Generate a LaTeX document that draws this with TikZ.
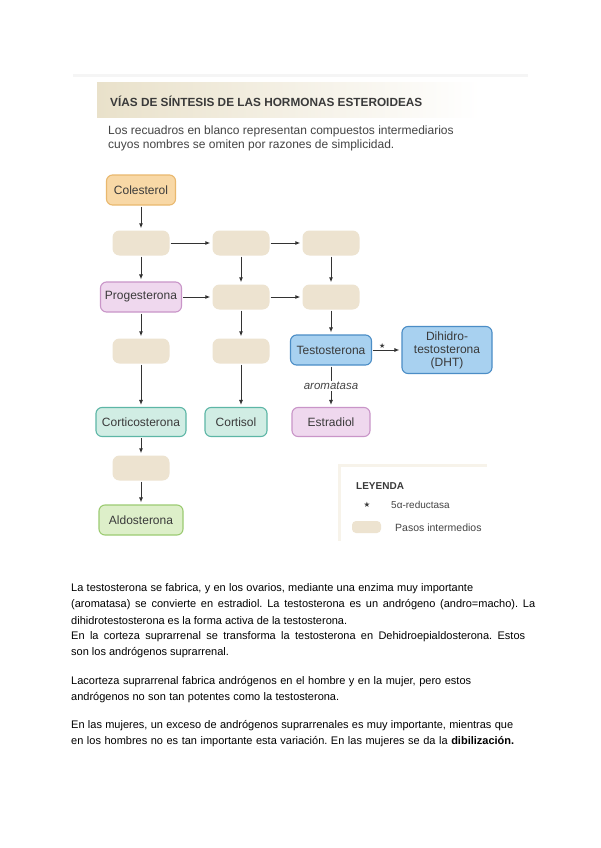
\documentclass[tikz,border=0pt]{standalone}
\usepackage{fontspec}
\setmainfont{Liberation Sans}
\newfontfamily\symfont{DejaVu Sans}
\usetikzlibrary{arrows.meta}
\frenchspacing
\definecolor{beige}{HTML}{EDE3D0}
\definecolor{titlebeige}{HTML}{E9E1CA}
\definecolor{orangef}{HTML}{F8D8A6}
\definecolor{oranged}{HTML}{E9B86E}
\definecolor{pinkf}{HTML}{EFD8EE}
\definecolor{pinkd}{HTML}{C995C8}
\definecolor{bluef}{HTML}{A8D1F0}
\definecolor{blued}{HTML}{4B8DC6}
\definecolor{tealf}{HTML}{D1EDE4}
\definecolor{teald}{HTML}{5DB6A6}
\definecolor{greenf}{HTML}{DDEFC9}
\definecolor{greend}{HTML}{9CCB72}
\definecolor{boxtext}{HTML}{3A3A3A}
\definecolor{arrowgray}{HTML}{333333}
\definecolor{subgray}{HTML}{444444}
\newcommand{\bodyfit}[2]{\makebox[#1pt][s]{#2}}
\tikzset{
  box/.style={draw, rounded corners=6pt, line width=1.1pt, minimum height=30pt,
    inner sep=1pt, font=\fontsize{12}{13.5}\selectfont, text=boxtext},
  orangebox/.style={box, fill=orangef, draw=oranged},
  pinkbox/.style={box, fill=pinkf, draw=pinkd},
  bluebox/.style={box, fill=bluef, draw=blued},
  tealbox/.style={box, fill=tealf, draw=teald},
  greenbox/.style={box, fill=greenf, draw=greend},
  inter/.style={fill=beige, rounded corners=7pt, minimum width=57pt, minimum height=25pt, inner sep=0pt},
  arr/.style={-{Latex[length=5pt,width=4pt]}, line width=0.9pt, draw=arrowgray, shorten >=2pt, shorten <=1pt},
  bodyline/.style={anchor=west, inner sep=0pt, font=\fontsize{11}{12}\selectfont},
}
\begin{document}
\begin{tikzpicture}[x=1pt,y=-1pt]
\useasboundingbox[fill=white] (0,0) rectangle (600,848);
% top rule and title band
\fill[gray!8] (73,74) rectangle (528,77);
\shade[left color=titlebeige, right color=white] (97,83) rectangle (480,118);
\node[anchor=west, inner sep=0pt, font=\bfseries\fontsize{11.8}{13}\selectfont, text=boxtext] (title) at (110,101) {VÍAS DE SÍNTESIS DE LAS HORMONAS ESTEROIDEAS};
\node[anchor=west, inner sep=0pt, font=\fontsize{12}{14}\selectfont, text=subgray] (sub1) at (108,131) {Los recuadros en blanco representan compuestos intermediarios};
\node[anchor=west, inner sep=0pt, font=\fontsize{12}{14}\selectfont, text=subgray] (sub2) at (108,145) {cuyos nombres se omiten por razones de simplicidad.};
% nodes
\node[orangebox, minimum width=69pt] (col) at (141,190) {Colesterol};
\node[inter] (i11) at (141,243) {};
\node[inter] (i12) at (241,243) {};
\node[inter] (i13) at (331,243) {};
\node[pinkbox, minimum width=81pt] (prog) at (141,297) {Progesterona};
\node[inter] (i22) at (241,297) {};
\node[inter] (i23) at (331,297) {};
\node[inter] (i31) at (141,351) {};
\node[inter] (i32) at (241,351) {};
\node[bluebox, minimum width=81pt] (testo) at (331,350) {Testosterona};
\node[bluebox, minimum width=90pt, minimum height=47pt, align=center,
  font=\fontsize{12}{13}\selectfont] (dht) at (447,350) {Dihidro-\\testosterona\\(DHT)};
\node[tealbox, minimum width=90pt, minimum height=29pt] (cort) at (141,422) {Corticosterona};
\node[tealbox, minimum width=62pt, minimum height=29pt] (cortisol) at (236,422) {Cortisol};
\node[pinkbox, minimum width=78pt, minimum height=29pt] (estr) at (331,422) {Estradiol};
\node[inter] (i51) at (141,468) {};
\node[greenbox, minimum width=84pt] (aldo) at (141,520) {Aldosterona};
% arrows
\draw[arr] (col) -- (i11);
\draw[arr] (i11) -- (i12);
\draw[arr] (i12) -- (i13);
\draw[arr] (i11) -- (prog);
\draw[arr] (i12) -- (i22);
\draw[arr] (i13) -- (i23);
\draw[arr] (prog) -- (i22);
\draw[arr] (i22) -- (i23);
\draw[arr] (prog) -- (i31);
\draw[arr] (i22) -- (i32);
\draw[arr] (i23) -- (testo);
\draw[arr] (i31) -- (cort);
\draw[arr] (i32) -- (i32 |- cortisol.north);
\draw[arr] (testo) -- node[fill=white, inner sep=1pt, font=\itshape\fontsize{11.5}{13}\selectfont, text=subgray] (arom) {aromatasa} (estr);
\draw[arr] (testo) -- node[pos=0.35, above, inner sep=1.5pt, font=\symfont\fontsize{7}{8}\selectfont, text=boxtext] (star) {★} (dht);
\draw[arr] (cort) -- (i51);
\draw[arr] (i51) -- (aldo);
% legend
\fill[beige!45] (338,464) rectangle (487,467);
\fill[beige!45] (338,467) rectangle (341,541);
\node[anchor=west, inner sep=0pt, font=\bfseries\fontsize{10}{11}\selectfont, text=boxtext] (ley) at (356,486) {LEYENDA};
\node[inner sep=0pt, font=\symfont\fontsize{7.5}{8}\selectfont, text=boxtext] (lstar) at (367,505) {★};
\node[anchor=west, inner sep=0pt, font=\fontsize{10}{11}\selectfont, text=subgray] (lred) at (391,505) {5α-reductasa};
\node[fill=beige, rounded corners=4pt, minimum width=29pt, minimum height=12pt, inner sep=0pt] (lsw) at (366.5,527) {};
\node[anchor=west, inner sep=0pt, font=\fontsize{10.5}{11}\selectfont, text=subgray] (lpas) at (395,528) {Pasos intermedios};
% body text
\node[bodyline] (t1) at (71,589) {\bodyfit{402}{La testosterona se fabrica, y en los ovarios, mediante una enzima muy importante}};
\node[bodyline] (t2) at (71,605) {\bodyfit{464}{(aromatasa) se convierte en estradiol. La testosterona es un andrógeno (andro=macho). La}};
\node[bodyline] (t3) at (71,621) {\bodyfit{276}{dihidrotestosterona es la forma activa de la testosterona.}};
\node[bodyline] (t4) at (71,637) {\bodyfit{454}{En la corteza suprarrenal se transforma la testosterona en Dehidroepialdosterona. Estos}};
\node[bodyline] (t5) at (71,653) {son los andrógenos suprarrenal.};
\node[bodyline] (t6) at (71,682) {\bodyfit{400}{Lacorteza suprarrenal fabrica andrógenos en el hombre y en la mujer, pero estos}};
\node[bodyline] (t7) at (71,698) {\bodyfit{268}{andrógenos no son tan potentes como la testosterona.}};
\node[bodyline] (t8) at (71,726) {\bodyfit{442}{En las mujeres, un exceso de andrógenos suprarrenales es muy importante, mientras que}};
\node[bodyline] (t9) at (71,742) {\bodyfit{443}{en los hombres no es tan importante esta variación. En las mujeres se da la \textbf{dibilización.}}};
\end{tikzpicture}
\end{document}
